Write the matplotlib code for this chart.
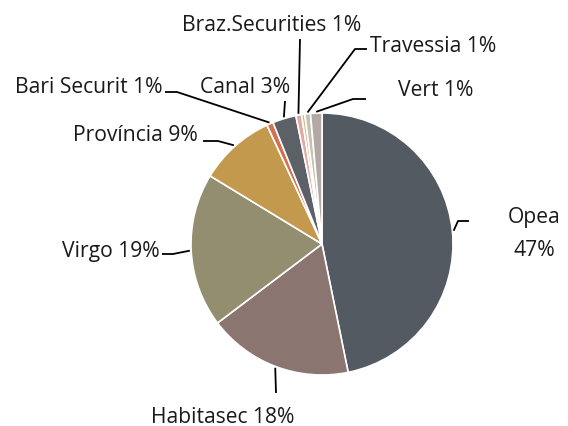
import matplotlib
matplotlib.use("Agg")
from matplotlib import pyplot as plt
import numpy as np

plt.rcParams['font.family'] = ['Open Sans', 'DejaVu Sans']

# slices clockwise from 12 o'clock (the tiny unlabeled sliver sits between Braz and Travessia)
nomes   = ["Opea", "Habitasec", "Virgo", "Província", "Bari Securit", "Canal",
           "Braz.Securities", "", "Travessia", "Vert"]
valores = [46.8, 17.9, 19.0, 9.4, 0.8, 2.9, 0.7, 0.4, 0.7, 1.4]
rotulos = ["Opea\n47%", "Habitasec 18%", "Virgo 19%", "Província 9%", "Bari Securit 1%",
           "Canal 3%", "Braz.Securities 1%", "", "Travessia 1%", "Vert 1%"]
cores   = ["#545a62", "#8a7570", "#938e70", "#c39a4d", "#d4704f", "#5c6168",
           "#e0aaa2", "#d9b98b", "#c3c3b1", "#b4a8a4"]

W, H = 568, 427
cx, cy, r = 322, H - 245, 131

# layout: text baseline position (pixel, y from top), ha, leader bend points
layout = {
    0: dict(txt=(534, 256), ha="center", pts=[(458, 222), (469, 222)]),
    1: dict(txt=(223, 423), ha="center", pts=[(276, 394)]),
    2: dict(txt=(160, 257), ha="right", pts=[(173, 255), (162, 255)]),
    3: dict(txt=(198, 141), ha="right", pts=[(218, 142), (203, 142)]),
    4: dict(txt=(162, 93), ha="right", pts=[(177, 93), (165, 93)]),
    5: dict(txt=(200, 93), ha="left", pts=[(285, 102)]),
    6: dict(txt=(272, 31), ha="center", pts=[(300, 40)]),
    8: dict(txt=(370, 52), ha="left", pts=[(355, 50), (367, 50)]),
    9: dict(txt=(398, 96), ha="left", pts=[(353, 100), (366, 100)]),
}

fig = plt.figure(figsize=(5.68, 4.27), dpi=100)
ax = fig.add_axes([0, 0, 1, 1])

wedges, _ = ax.pie(valores, colors=cores, startangle=90, counterclock=False,
                   center=(cx, cy), radius=r,
                   wedgeprops=dict(edgecolor="white", linewidth=1.2))
ax.set_xlim(0, W)
ax.set_ylim(0, H)
ax.set_aspect("equal")
ax.axis("off")

for i, w in enumerate(wedges):
    if i not in layout:
        continue
    lay = layout[i]
    ang = np.deg2rad((w.theta1 + w.theta2) / 2)
    ax0 = cx + r * 1.01 * np.cos(ang)
    ay0 = cy + r * 1.01 * np.sin(ang)
    xs = [ax0] + [p[0] for p in lay["pts"]]
    ys = [ay0] + [H - p[1] for p in lay["pts"]]
    ax.plot(xs, ys, color="black", lw=1.3, solid_capstyle="butt")
    tx, ty = lay["txt"]
    ax.text(tx, H - ty, rotulos[i], ha=lay["ha"], va="baseline", fontsize=15.2,
            color="#1a1a1a", linespacing=1.75, multialignment="center")

fig.savefig("out.png", dpi=100, facecolor="white")
